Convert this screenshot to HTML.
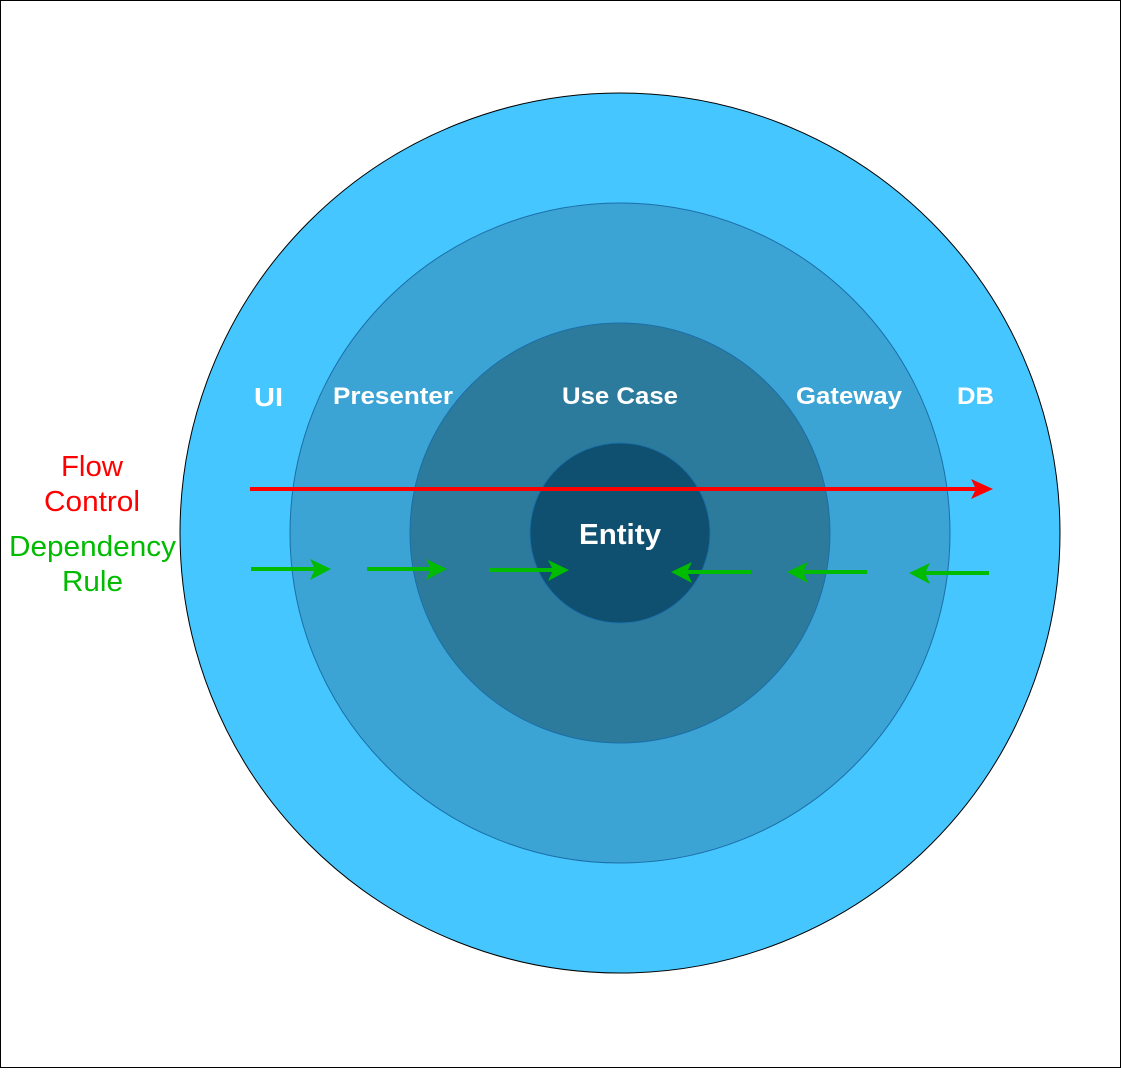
<!DOCTYPE html>
<html><head><style>html,body{margin:0;padding:0;background:#fff}</style></head><body>
<svg width="1121" height="1068" viewBox="0 0 1121 1068" xmlns="http://www.w3.org/2000/svg" font-family="Liberation Sans, sans-serif">
<rect x="0.5" y="0.5" width="1120" height="1067" fill="#fff" stroke="#000"/>
<circle cx="620" cy="533" r="440" fill="#46C6FE" stroke="#000" stroke-width="1"/>
<circle cx="620" cy="533" r="330" fill="#3CA4D4" stroke="#1A6FA8" stroke-width="1"/>
<circle cx="620" cy="533" r="210" fill="#2C7B9D" stroke="#1A6FA8" stroke-width="1"/>
<circle cx="620" cy="533" r="90" fill="#0F4F6F" stroke="#1A6FA8" stroke-width="1"/>
<g fill="#fff" font-weight="bold">
<text x="254" y="406" font-size="26" textLength="29" lengthAdjust="spacingAndGlyphs">UI</text>
<text x="333" y="404" font-size="24" textLength="120" lengthAdjust="spacingAndGlyphs">Presenter</text>
<text x="562" y="404" font-size="24" textLength="116" lengthAdjust="spacingAndGlyphs">Use Case</text>
<text x="796" y="404" font-size="24" textLength="106" lengthAdjust="spacingAndGlyphs">Gateway</text>
<text x="957" y="404" font-size="24" textLength="37" lengthAdjust="spacingAndGlyphs">DB</text>
<text x="579" y="544" font-size="29" textLength="82" lengthAdjust="spacingAndGlyphs">Entity</text>
</g>
<g font-size="29">
<text x="61" y="476" fill="#FF0000" textLength="62" lengthAdjust="spacingAndGlyphs">Flow</text>
<text x="44" y="511" fill="#FF0000" textLength="96" lengthAdjust="spacingAndGlyphs">Control</text>
<text x="9" y="556" fill="#00BB00" textLength="167" lengthAdjust="spacingAndGlyphs">Dependency</text>
<text x="62" y="591" fill="#00BB00" textLength="61" lengthAdjust="spacingAndGlyphs">Rule</text>
</g>
<line x1="250" y1="489" x2="978" y2="489" stroke="#FF0000" stroke-width="4"/>
<polygon points="993,489 971,479 976,489 971,499" fill="#FF0000"/>
<g stroke="#00BB00" stroke-width="4">
<line x1="251" y1="569" x2="318" y2="569"/>
<line x1="367" y1="569" x2="434" y2="569"/>
<line x1="489" y1="570" x2="556" y2="570"/>
<line x1="751" y1="572" x2="684" y2="572"/>
<line x1="867" y1="572" x2="800" y2="572"/>
<line x1="989" y1="573" x2="922" y2="573"/>
</g>
<g fill="#00BB00">
<polygon points="331,569 310,559 315,569 310,580"/>
<polygon points="447,569 426,559 431,569 426,580"/>
<polygon points="569,570 548,560 553,570 548,581"/>
<polygon points="671,572 692,562 687,572 692,583"/>
<polygon points="787,572 808,562 803,572 808,583"/>
<polygon points="909,573 930,563 925,573 930,584"/>
</g>
</svg>
</body></html>
